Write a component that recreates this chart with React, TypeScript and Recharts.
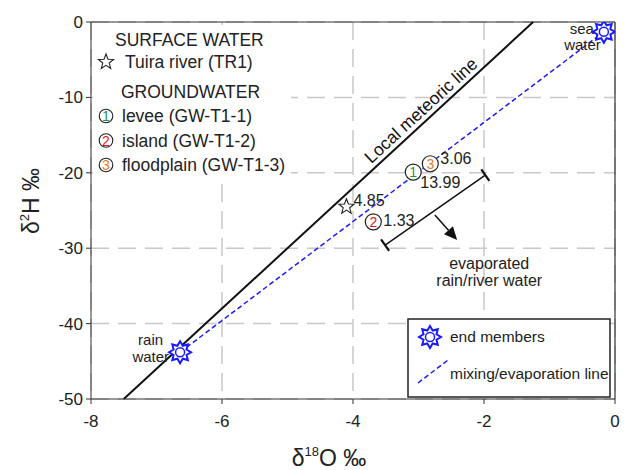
import { ScatterChart, Scatter, XAxis, YAxis, CartesianGrid, ReferenceLine, ReferenceDot } from 'recharts'

const xTicks = [-8, -6, -4, -2, 0]
const yTicks = [-50, -40, -30, -20, -10, 0]

// d18O (o) and d2H (h) values
const endMembers = [
  { o: -6.64, h: -43.8, name: 'rain' },
  { o: -0.17, h: -1.3, name: 'sea' },
]
const surfaceWater = [{ o: -4.1, h: -24.5, d: '4.85' }]
const groundwater = [
  { o: -3.08, h: -19.9, n: '1', d: '13.99' },
  { o: -3.69, h: -26.5, n: '2', d: '1.33' },
  { o: -2.82, h: -18.8, n: '3', d: '3.06' },
]
const meteoricLine = [{ x: -7.5, y: -50 }, { x: -1.25, y: 0 }]
const meteoricLabelAt = { x: -2.85, y: -12.8 }
const evapBar = [{ x: -3.51, y: -29.6 }, { x: -1.98, y: -20.3 }]
const evapArrow = [{ x: -2.75, y: -25.6 }, { x: -2.41, y: -28.9 }]
const evapLabelAt = { x: -1.92, y: -33.2 }

const gwColor: Record<string, string> = { '1': '#1f9a3a', '2': '#e5161d', '3': '#f07a1c' }
const gwLabelOffset: Record<string, [number, number]> = { '1': [7, 16], '2': [10, 4], '3': [10, 0] }
const FONT = '"Liberation Sans", Arial, sans-serif'
const BLUE = '#1a1aff'

function starPts(cx: number, cy: number, ro: number, ri: number, n: number, rot = -Math.PI / 2) {
  const pts: string[] = []
  for (let i = 0; i < n * 2; i++) {
    const r = i % 2 === 0 ? ro : ri
    const a = rot + (i * Math.PI) / n
    pts.push(`${(cx + r * Math.cos(a)).toFixed(2)},${(cy + r * Math.sin(a)).toFixed(2)}`)
  }
  return pts.join(' ')
}

function EndStar({ cx, cy }: { cx: number; cy: number }) {
  return (
    <g>
      <polygon points={starPts(cx, cy, 11, 7, 8)} fill="#fff" stroke={BLUE} strokeWidth={2} />
      <circle cx={cx} cy={cy} r={4.5} fill="#fff" stroke={BLUE} strokeWidth={1.5} />
    </g>
  )
}

function EndMemberShape(props: any) {
  const { cx, cy, payload } = props
  const sea = payload.name === 'sea'
  return (
    <g fontFamily={FONT} fontSize={15} fill="#222">
      {sea ? (
        <>
          <text x={cx - 10} y={cy + 2} textAnchor="end">sea</text>
          <text x={cx - 3} y={cy + 18} textAnchor="end">water</text>
        </>
      ) : (
        <>
          <text x={cx - 17} y={cy - 7} textAnchor="end">rain</text>
          <text x={cx - 11} y={cy + 10} textAnchor="end">water</text>
        </>
      )}
      <EndStar cx={cx} cy={cy} />
    </g>
  )
}

function TrShape(props: any) {
  const { cx, cy, payload } = props
  return (
    <g>
      <polygon points={starPts(cx, cy, 8, 3.4, 5)} fill="#fff" stroke="#222" strokeWidth={1.1} />
      <text x={cx + 7} y={cy - 1} fontFamily={FONT} fontSize={16} fill="#222">{payload.d}</text>
    </g>
  )
}

function GwShape(props: any) {
  const { cx, cy, payload } = props
  const off = gwLabelOffset[payload.n]
  return (
    <g fontFamily={FONT}>
      <circle cx={cx} cy={cy} r={8} fill="#fff" stroke="#222" strokeWidth={1.2} />
      <text x={cx} y={cy + 5} textAnchor="middle" fontSize={14} fill={gwColor[payload.n]}>{payload.n}</text>
      <text x={cx + off[0]} y={cy + off[1]} fontSize={16} fill="#222">{payload.d}</text>
    </g>
  )
}

function BarShape(props: any) {
  const { x1, y1, x2, y2 } = props
  const len = Math.hypot(x2 - x1, y2 - y1)
  const px = (-(y2 - y1) / len) * 7
  const py = ((x2 - x1) / len) * 7
  return (
    <g stroke="#111">
      <line x1={x1} y1={y1} x2={x2} y2={y2} strokeWidth={1.5} />
      <line x1={x1 - px} y1={y1 - py} x2={x1 + px} y2={y1 + py} strokeWidth={2.2} />
      <line x1={x2 - px} y1={y2 - py} x2={x2 + px} y2={y2 + py} strokeWidth={2.2} />
    </g>
  )
}

function ArrowShape(props: any) {
  const { x1, y1, x2, y2 } = props
  const len = Math.hypot(x2 - x1, y2 - y1)
  const ux = (x2 - x1) / len
  const uy = (y2 - y1) / len
  const bx = x2 - ux * 13
  const by = y2 - uy * 13
  const head = `${x2},${y2} ${bx - uy * 6},${by + ux * 6} ${bx + uy * 6},${by - ux * 6}`
  return (
    <g>
      <line x1={x1} y1={y1} x2={bx} y2={by} stroke="#111" strokeWidth={1.5} />
      <polygon points={head} fill="#111" />
    </g>
  )
}

function MeteoricLabel(props: any) {
  const { cx, cy } = props
  return (
    <g transform={`translate(${cx},${cy}) rotate(-42.6)`}>
      <text x={0} y={-5} textAnchor="middle" fontFamily={FONT} fontSize={17.5} fill="#111">Local meteoric line</text>
    </g>
  )
}

function EvapLabel(props: any) {
  const { cx, cy } = props
  return (
    <g fontFamily={FONT} fontSize={16} fill="#222" textAnchor="middle">
      <text x={cx} y={cy - 3}>evaporated</text>
      <text x={cx} y={cy + 14}>rain/river water</text>
    </g>
  )
}

function Overlay() {
  return (
    <svg width={627} height={470} style={{ position: 'absolute', left: 0, top: 0 }} fontFamily={FONT}>
      <rect x={93} y={25} width={198} height={152} fill="#fff" />
      <g fontSize={17.5} fill="#222">
        <text x={115} y={46}>SURFACE WATER</text>
        <polygon points={starPts(106, 62, 8, 3.4, 5)} fill="#fff" stroke="#222" strokeWidth={1.1} />
        <text x={125} y={68}>Tuira river (TR1)</text>
        <text x={121} y={98}>GROUNDWATER</text>
        {groundwater.map((g, i) => (
          <g key={g.n}>
            <circle cx={106} cy={116 + i * 24.5} r={6.8} fill="#fff" stroke="#222" strokeWidth={1.1} />
            <text x={106} y={116 + i * 24.5 + 5} textAnchor="middle" fontSize={14} fill={gwColor[g.n]}>{g.n}</text>
          </g>
        ))}
        <text x={122} y={122}>levee (GW-T1-1)</text>
        <text x={122} y={147}>island (GW-T1-2)</text>
        <text x={122} y={171}>floodplain (GW-T1-3)</text>
      </g>
      <rect x={408} y={319} width={202} height={78} fill="#fff" stroke="#222" strokeWidth={1.5} />
      <EndStar cx={430} cy={337} />
      <text x={450} y={342} fontSize={15.5} fill="#222">end members</text>
      <line x1={418} y1={383} x2={448} y2={360} stroke={BLUE} strokeWidth={1.5} strokeDasharray="5 3" />
      <text x={450} y={379} fontSize={15.5} fill="#222">mixing/evaporation line</text>
      <text x={329} y={466} textAnchor="middle" fontSize={23} fill="#222">
        δ<tspan fontSize={13} dy={-10}>18</tspan><tspan dy={10}>O ‰</tspan>
      </text>
      <g transform="translate(39,201) rotate(-90)">
        <text x={0} y={0} textAnchor="middle" fontSize={23} fill="#222">
          δ<tspan fontSize={13} dy={-10}>2</tspan><tspan dy={10}>H ‰</tspan>
        </text>
      </g>
    </svg>
  )
}

export default function App() {
  return (
    <div style={{ position: 'absolute', left: 0, top: 0, width: 627, height: 470, background: '#fff', fontFamily: FONT }}>
      <ScatterChart width={627} height={470} margin={{ top: 22, right: 12, left: 0, bottom: 0 }}>
        <CartesianGrid stroke="#c8c8c8" strokeWidth={1.5} strokeDasharray="18 9" />
        <XAxis
          type="number"
          dataKey="o"
          domain={[-8, 0]}
          ticks={xTicks}
          height={71}
          tickSize={5}
          tickMargin={11}
          stroke="#333"
          tick={{ fill: '#222', fontSize: 17 }}
          allowDataOverflow
        />
        <YAxis
          type="number"
          dataKey="h"
          domain={[-50, 0]}
          ticks={yTicks}
          width={91}
          tickSize={5}
          tickMargin={3}
          stroke="#333"
          tick={{ fill: '#222', fontSize: 17 }}
          allowDataOverflow
        />
        <ReferenceLine y={0} stroke="#333" strokeWidth={1.2} />
        <ReferenceLine x={0} stroke="#333" strokeWidth={1.2} />
        <ReferenceLine segment={meteoricLine} stroke="#111" strokeWidth={2} />
        <ReferenceLine
          segment={[{ x: endMembers[0].o, y: endMembers[0].h }, { x: endMembers[1].o, y: endMembers[1].h }]}
          stroke={BLUE}
          strokeWidth={1.5}
          strokeDasharray="5 3"
        />
        <ReferenceLine segment={evapBar} shape={BarShape} />
        <ReferenceLine segment={evapArrow} shape={ArrowShape} />
        <ReferenceDot x={meteoricLabelAt.x} y={meteoricLabelAt.y} shape={MeteoricLabel} />
        <ReferenceDot x={evapLabelAt.x} y={evapLabelAt.y} shape={EvapLabel} />
        <Scatter data={surfaceWater} shape={TrShape} isAnimationActive={false} />
        <Scatter data={groundwater} shape={GwShape} isAnimationActive={false} />
        <Scatter data={endMembers} shape={EndMemberShape} isAnimationActive={false} />
      </ScatterChart>
      <Overlay />
    </div>
  )
}
